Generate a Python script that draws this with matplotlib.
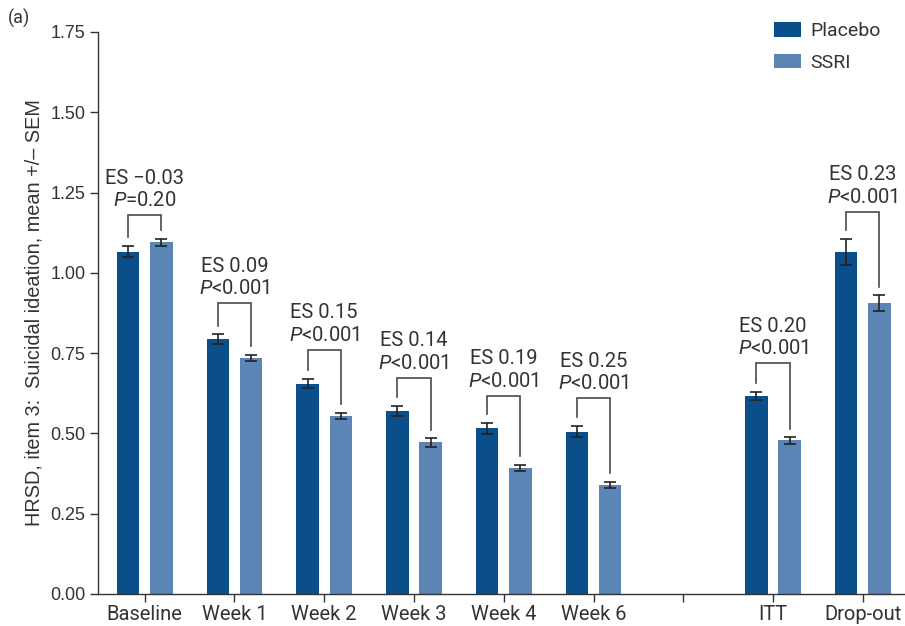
import matplotlib
matplotlib.use("Agg")
import matplotlib.pyplot as plt
import numpy as np

categories = ["Baseline", "Week 1", "Week 2", "Week 3", "Week 4", "Week 6", "", "ITT", "Drop-out"]
positions = [0, 1, 2, 3, 4, 5, 7, 8]
placebo = [1.066, 0.794, 0.655, 0.570, 0.516, 0.506, 0.617, 1.066]
placebo_err = [0.018, 0.015, 0.015, 0.015, 0.017, 0.017, 0.012, 0.040]
ssri = [1.095, 0.734, 0.554, 0.472, 0.392, 0.339, 0.478, 0.905]
ssri_err = [0.010, 0.010, 0.010, 0.013, 0.010, 0.010, 0.010, 0.025]
bracket_top = [1.18, 0.905, 0.76, 0.674, 0.617, 0.61, 0.718, 1.19]
es_labels = ["ES \u22120.03", "ES 0.09", "ES 0.15", "ES 0.14", "ES 0.19", "ES 0.25", "ES 0.20", "ES 0.23"]
p_labels = ["=0.20", "<0.001", "<0.001", "<0.001", "<0.001", "<0.001", "<0.001", "<0.001"]
yticks = [0.00, 0.25, 0.50, 0.75, 1.00, 1.25, 1.50, 1.75]

main_font = "Roboto"
plt.rcParams['font.family'] = [main_font, 'DejaVu Sans']
plt.rcParams['mathtext.fontset'] = 'custom'
plt.rcParams['mathtext.it'] = main_font + ':italic'
plt.rcParams['mathtext.rm'] = main_font

c_pl = "#0b4f8a"
c_ss = "#5a85b5"
txtc = "#333333"

fig = plt.figure(figsize=(9.05, 6.26), dpi=100)
ax = fig.add_axes([98/905, 32/626, 807/905, 562/626])

w = 0.25
off = 0.185
x = np.array(positions, dtype=float)
ax.bar(x - off, placebo, w, color=c_pl, label="Placebo", zorder=2)
ax.bar(x + off, ssri, w, color=c_ss, label="SSRI", zorder=2)
ax.errorbar(x - off, placebo, yerr=placebo_err, fmt="none", ecolor="#222222", elinewidth=1.2, capsize=4.5, capthick=1.2, zorder=3)
ax.errorbar(x + off, ssri, yerr=ssri_err, fmt="none", ecolor="#222222", elinewidth=1.2, capsize=4.5, capthick=1.2, zorder=3)

gap = 0.027
for i, xi in enumerate(x):
    top = bracket_top[i]
    l_end = placebo[i] + placebo_err[i] + gap
    r_end = ssri[i] + ssri_err[i] + gap
    ax.plot([xi - off, xi - off, xi + off, xi + off], [l_end, top, top, r_end],
            color="#4a4a4a", lw=1.2, zorder=3, solid_joinstyle="miter")
    ax.text(xi, top + 0.028, "$\\mathit{P}$" + p_labels[i], ha="center", va="baseline",
            fontsize=14.5, color=txtc)
    ax.text(xi, top + 0.098, es_labels[i], ha="center", va="baseline",
            fontsize=14.5, color=txtc)

ax.set_ylim(0, 1.75)
ax.set_xlim(-0.52, 8.47)
ax.set_yticks(yticks)
ax.set_yticklabels([f"{v:.2f}" for v in yticks], fontsize=13, family="Liberation Sans", color=txtc)
ax.set_xticks(range(9))
ax.set_xticklabels(categories, fontsize=14.5, color=txtc)
ax.tick_params(axis="both", length=6, width=1, color="#333333", direction="out")
ax.tick_params(axis="x", pad=2)
ax.tick_params(axis="y", pad=3)
for s in ["top", "right"]:
    ax.spines[s].set_visible(False)
for s in ["left", "bottom"]:
    ax.spines[s].set_color("#333333")
    ax.spines[s].set_linewidth(1)
ax.set_ylabel("HRSD, item 3:  Suicidal ideation, mean +/\u2013 SEM", fontsize=14.3,
              family="Liberation Sans", color=txtc, labelpad=5)

leg = ax.legend(loc="upper left", bbox_to_anchor=(668/807, 1.031), frameon=False, fontsize=14,
                handlelength=1.4, handleheight=0.75, labelspacing=0.68, handletextpad=0.5,
                borderaxespad=0.0)
for t in leg.get_texts():
    t.set_color(txtc)

fig.text(8/905, 1 - 18/626, "(a)", fontsize=13, color=txtc, va="center")

fig.savefig("out.png", dpi=100)
